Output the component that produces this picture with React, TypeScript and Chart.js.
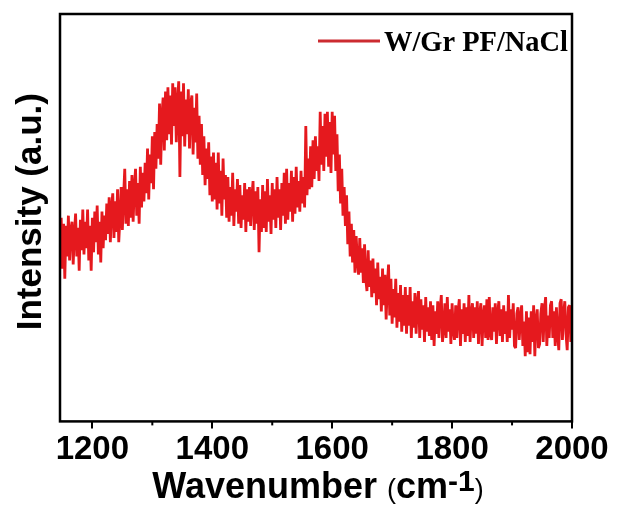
import React, { useEffect, useRef } from "react";
import { Chart, registerables } from "chart.js";

Chart.register(...registerables);

// Raman shift (cm-1) sampled across the plotted window
const wavenumbers = [
  1146, 1148, 1150, 1152, 1154, 1156, 1158, 1160, 1162, 1164,
  1166, 1168, 1170, 1172, 1174, 1176, 1178, 1180, 1182, 1184,
  1186, 1188, 1190, 1192, 1194, 1196, 1198, 1200, 1202, 1204,
  1206, 1208, 1210, 1212, 1214, 1216, 1218, 1220, 1222, 1224,
  1226, 1228, 1230, 1232, 1234, 1236, 1238, 1240, 1242, 1244,
  1246, 1248, 1250, 1252, 1254, 1256, 1258, 1260, 1262, 1264,
  1266, 1268, 1270, 1272, 1274, 1276, 1278, 1280, 1282, 1284,
  1286, 1288, 1290, 1292, 1294, 1296, 1298, 1300, 1302, 1304,
  1306, 1308, 1310, 1312, 1314, 1316, 1318, 1320, 1322, 1324,
  1326, 1328, 1330, 1332, 1334, 1336, 1338, 1340, 1342, 1344,
  1346, 1348, 1350, 1352, 1354, 1356, 1358, 1360, 1362, 1364,
  1366, 1368, 1370, 1372, 1374, 1376, 1378, 1380, 1382, 1384,
  1386, 1388, 1390, 1392, 1394, 1396, 1398, 1400, 1402, 1404,
  1406, 1408, 1410, 1412, 1414, 1416, 1418, 1420, 1422, 1424,
  1426, 1428, 1430, 1432, 1434, 1436, 1438, 1440, 1442, 1444,
  1446, 1448, 1450, 1452, 1454, 1456, 1458, 1460, 1462, 1464,
  1466, 1468, 1470, 1472, 1474, 1476, 1478, 1480, 1482, 1484,
  1486, 1488, 1490, 1492, 1494, 1496, 1498, 1500, 1502, 1504,
  1506, 1508, 1510, 1512, 1514, 1516, 1518, 1520, 1522, 1524,
  1526, 1528, 1530, 1532, 1534, 1536, 1538, 1540, 1542, 1544,
  1546, 1548, 1550, 1552, 1554, 1556, 1558, 1560, 1562, 1564,
  1566, 1568, 1570, 1572, 1574, 1576, 1578, 1580, 1582, 1584,
  1586, 1588, 1590, 1592, 1594, 1596, 1598, 1600, 1602, 1604,
  1606, 1608, 1610, 1612, 1614, 1616, 1618, 1620, 1622, 1624,
  1626, 1628, 1630, 1632, 1634, 1636, 1638, 1640, 1642, 1644,
  1646, 1648, 1650, 1652, 1654, 1656, 1658, 1660, 1662, 1664,
  1666, 1668, 1670, 1672, 1674, 1676, 1678, 1680, 1682, 1684,
  1686, 1688, 1690, 1692, 1694, 1696, 1698, 1700, 1702, 1704,
  1706, 1708, 1710, 1712, 1714, 1716, 1718, 1720, 1722, 1724,
  1726, 1728, 1730, 1732, 1734, 1736, 1738, 1740, 1742, 1744,
  1746, 1748, 1750, 1752, 1754, 1756, 1758, 1760, 1762, 1764,
  1766, 1768, 1770, 1772, 1774, 1776, 1778, 1780, 1782, 1784,
  1786, 1788, 1790, 1792, 1794, 1796, 1798, 1800, 1802, 1804,
  1806, 1808, 1810, 1812, 1814, 1816, 1818, 1820, 1822, 1824,
  1826, 1828, 1830, 1832, 1834, 1836, 1838, 1840, 1842, 1844,
  1846, 1848, 1850, 1852, 1854, 1856, 1858, 1860, 1862, 1864,
  1866, 1868, 1870, 1872, 1874, 1876, 1878, 1880, 1882, 1884,
  1886, 1888, 1890, 1892, 1894, 1896, 1898, 1900, 1902, 1904,
  1906, 1908, 1910, 1912, 1914, 1916, 1918, 1920, 1922, 1924,
  1926, 1928, 1930, 1932, 1934, 1936, 1938, 1940, 1942, 1944,
  1946, 1948, 1950, 1952, 1954, 1956, 1958, 1960, 1962, 1964,
  1966, 1968, 1970, 1972, 1974, 1976, 1978, 1980, 1982, 1984,
  1986, 1988, 1990, 1992, 1994, 1996, 1998, 2000,
];

// Intensity (a.u.)
const intensity = [
  43, 50, 37.5, 48.5, 35, 48, 40.5, 50.5, 39.5, 47,
  49, 38.5, 46, 51, 40.5, 47.5, 37, 49.5, 42, 52,
  41, 49, 42.5, 52, 39.5, 48, 37, 50, 41.5, 51.5,
  44, 53, 41, 49, 39, 51.5, 42.5, 50.5, 44.5, 53.5,
  46, 55, 44, 52.5, 56, 45, 54, 46.5, 57, 44,
  50, 57.5, 47, 55, 62, 48.5, 57, 48, 59, 50,
  60.5, 49, 57.5, 62, 50.5, 58.5, 48.5, 62.5, 52.5, 61,
  54, 63.5, 56, 67, 54.5, 65.5, 58.5, 70, 57, 71,
  62, 73, 64.5, 78, 63, 75, 79.5, 66.5, 81, 69,
  82, 70.5, 80, 68, 83, 72.5, 82, 68.5, 78, 83.5,
  60, 81, 70, 83, 67.5, 79, 70.5, 81.5, 67, 78,
  80, 65.5, 77, 68.5, 80.5, 64.5, 75, 63, 73, 60.5,
  70, 58, 67, 59.5, 68.5, 55.5, 65, 54, 66, 54.5,
  63.5, 52, 66, 53.5, 61.5, 50.5, 64.5, 54.5, 60.5, 50,
  60, 49, 57.5, 50.5, 61, 48, 57, 51.5, 59.5, 48.5,
  58, 47.5, 55.5, 49.5, 58.5, 46.5, 57, 49, 57.5, 48,
  55, 59, 47, 56.5, 48.5, 57.5, 41.5, 54.5, 46.5, 58,
  47.5, 56.5, 46.5, 59.5, 49, 55.5, 46, 58.5, 49.5, 57,
  47.5, 60, 50, 57, 47, 58.5, 50.5, 61, 48.5, 62,
  49.5, 58.5, 51.5, 61.5, 49, 60, 51, 62.5, 52.5, 59,
  51.5, 61.5, 53.5, 60, 52.5, 72.5, 55.5, 64.5, 57, 67.5,
  57.5, 69, 59.5, 70, 61.5, 67.5, 59, 76, 63, 72.5,
  61.5, 75.5, 65, 76, 62.5, 73.5, 61, 76, 65.5, 75,
  61.5, 70.5, 56.5, 65.5, 53.5, 62, 50.5, 57.5, 48, 55.5,
  43.5, 51.5, 40.5, 48.5, 39, 47, 36.5, 45.5, 39.5, 36,
  45, 36.5, 42.5, 34, 43.5, 35, 32, 42, 33, 39.5,
  30.5, 40, 31.5, 37.5, 28.5, 39, 30, 35.5, 27, 37.5,
  28.5, 36, 25, 33.5, 38.5, 26, 35, 24, 32.5, 25.5,
  35, 23, 31.5, 24.5, 33.5, 22, 31, 23.5, 33, 21.5,
  31, 23.5, 33, 20.5, 29.5, 23, 31.5, 21.5, 29, 32,
  20.5, 30, 22.5, 28.5, 19.5, 30.5, 22, 28, 21, 29.5,
  20, 28.5, 18.5, 27, 21.5, 29.5, 20.5, 27.5, 31, 19.5,
  23, 29, 20.5, 30.5, 22, 27.5, 19, 29, 22.5, 20,
  28.5, 20.5, 27, 30, 18.5, 27.5, 21.5, 29, 19.5, 28,
  21, 31, 19.5, 26.5, 29, 20.5, 28, 21.5, 29.5, 19,
  26.5, 29, 18.5, 26, 28.5, 20.5, 30, 20, 30.5, 21.5,
  20, 28, 22, 29, 19, 26.5, 29.5, 21, 27.5, 19.5,
  28.5, 21.5, 27, 19.5, 31, 20.5, 27.5, 22.5, 29, 18.5,
  18, 26.5, 28, 20, 25.5, 28.5, 18.5, 24.5, 16, 27,
  17, 25.5, 16.5, 27, 19.5, 28.5, 16, 25, 27.5, 18,
  19, 26.5, 29, 19.5, 27.5, 30.5, 18.5, 26, 20.5, 28.5,
  29.5, 20.5, 27, 18.5, 28, 21.5, 17.5, 29, 30, 20,
  26.5, 29.5, 21.5, 17.5, 28, 28.5, 19.5, 26,
];

const xTickValues = [1200, 1400, 1600, 1800, 2000];
const xMinorTickValues = [1300, 1500, 1700, 1900];
const seriesLabel = "W/Gr PF/NaCl";
const xTitleMain = "Wavenumber ";
const xTitleUnit = "cm";
const xTitleSup = "-1";
const yTitle = "Intensity (a.u.)";

const SANS = '"Liberation Sans", Arial, sans-serif';
const SERIF = '"Liberation Serif", "Times New Roman", serif';
const LINE_RED = "#e5191e";
const LEGEND_RED = "#cc2b30";

const decorPlugin = {
  id: "decor",
  afterDraw(chart: any) {
    const { ctx, chartArea: a, scales } = chart;
    const xs = scales.x;
    ctx.save();

    // frame
    ctx.strokeStyle = "#000";
    ctx.lineWidth = 2.5;
    ctx.strokeRect(a.left, a.top, a.right - a.left, a.bottom - a.top);

    // minor ticks
    ctx.lineWidth = 2;
    for (const v of xMinorTickValues) {
      const px = xs.getPixelForValue(v);
      ctx.beginPath();
      ctx.moveTo(px, a.bottom);
      ctx.lineTo(px, a.bottom + 4);
      ctx.stroke();
    }

    // x title with superscript
    ctx.fillStyle = "#000";
    ctx.textBaseline = "alphabetic";
    ctx.textAlign = "left";
    const fMain = `bold 36px ${SANS}`;
    const fParen = `normal 27px ${SANS}`;
    const fSup = `bold 30px ${SANS}`;
    const parts = [
      { t: xTitleMain, f: fMain, dy: 0 },
      { t: "(", f: fParen, dy: 0 },
      { t: xTitleUnit, f: fMain, dy: 0 },
      { t: xTitleSup, f: fSup, dy: -7 },
      { t: ")", f: fParen, dy: 0 },
    ];
    let total = 0;
    for (const p of parts) {
      ctx.font = p.f;
      total += ctx.measureText(p.t).width;
    }
    let x = (a.left + a.right) / 2 + 2 - total / 2;
    const base = 498;
    for (const p of parts) {
      ctx.font = p.f;
      ctx.fillText(p.t, x, base + p.dy);
      x += ctx.measureText(p.t).width;
    }

    // y title
    ctx.save();
    ctx.translate(31, (a.top + a.bottom) / 2 - 6);
    ctx.rotate(-Math.PI / 2);
    ctx.textAlign = "center";
    ctx.textBaseline = "middle";
    ctx.font = `bold 35px ${SANS}`;
    ctx.fillText(yTitle, 0, 0);
    ctx.restore();

    // legend
    ctx.strokeStyle = LEGEND_RED;
    ctx.lineWidth = 3;
    ctx.beginPath();
    ctx.moveTo(318, 41);
    ctx.lineTo(380, 41);
    ctx.stroke();
    ctx.font = `bold 30px ${SERIF}`;
    ctx.textAlign = "left";
    ctx.textBaseline = "alphabetic";
    const w = ctx.measureText(seriesLabel).width;
    const target = 184;
    ctx.save();
    ctx.translate(384, 51);
    ctx.scale(target / w, 1);
    ctx.fillStyle = "#000";
    ctx.fillText(seriesLabel, 0, 0);
    ctx.restore();

    ctx.restore();
  },
};

export default function App() {
  const ref = useRef<HTMLCanvasElement | null>(null);
  useEffect(() => {
    if (!ref.current) return;
    const points = wavenumbers.map((w, i) => ({ x: w, y: intensity[i] }));
    const chart = new Chart(ref.current, {
      type: "line",
      data: {
        datasets: [
          {
            label: seriesLabel,
            data: points,
            borderColor: LINE_RED,
            borderWidth: 2.8,
            borderJoinStyle: "bevel",
            pointRadius: 0,
            tension: 0,
            fill: false,
          },
        ],
      },
      options: {
        responsive: false,
        animation: false,
        devicePixelRatio: 1,
        layout: { padding: { left: 60, right: 45, top: 14, bottom: 34 } },
        plugins: { legend: { display: false }, tooltip: { enabled: false } },
        scales: {
          x: {
            type: "linear",
            min: 1146,
            max: 2000,
            afterBuildTicks: (s: any) => {
              s.ticks = xTickValues.map((v) => ({ value: v }));
            },
            ticks: {
              autoSkip: false,
              maxRotation: 0,
              padding: 2,
              color: "#000",
              font: { family: SANS, size: 33, weight: "bold" },
              callback: (v: any) => String(v),
            },
            grid: {
              drawOnChartArea: false,
              drawTicks: true,
              tickLength: 7,
              color: "#000",
              lineWidth: 2,
            },
            border: { display: false },
          },
          y: { display: false, min: 0, max: 100 },
        },
      },
      plugins: [decorPlugin],
    });
    return () => chart.destroy();
  }, []);
  return (
    <div style={{ position: "fixed", left: 0, top: 0, width: 617, height: 506, background: "#fff" }}>
      <canvas ref={ref} width={617} height={506} />
    </div>
  );
}
